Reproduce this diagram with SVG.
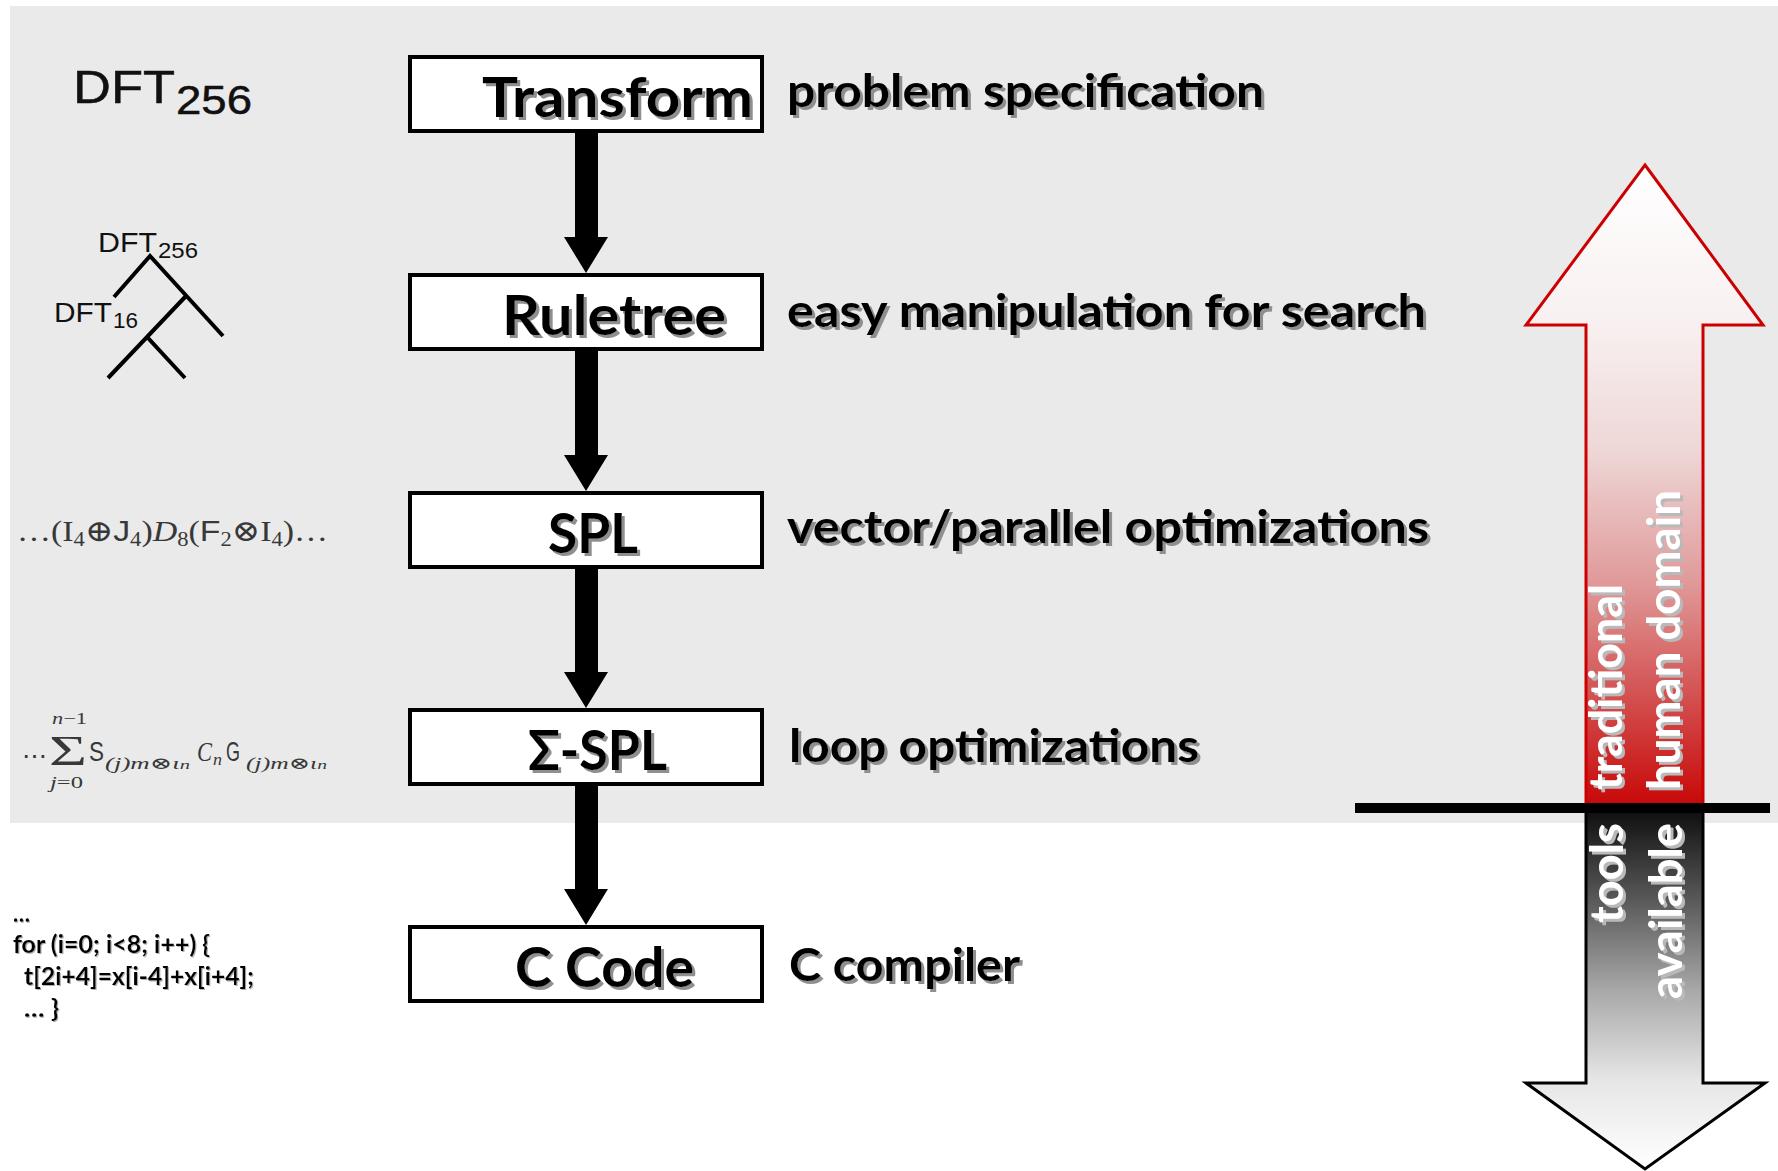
<svg xmlns="http://www.w3.org/2000/svg" width="1778" height="1171" viewBox="0 0 1778 1171">
  <defs>
    <style>
      .box { fill: #ffffff; stroke: #000000; stroke-width: 4; }
      .title { font-family: Lato, "Open Sans", "Liberation Sans", sans-serif; font-weight: 700; font-size: 56px; fill: #000; }
      .label { font-family: Lato, "Open Sans", "Liberation Sans", sans-serif; font-weight: 700; font-size: 46px; fill: #000; }
      .code { font-family: Lato, "Open Sans", "Liberation Sans", sans-serif; font-weight: 700; font-size: 24px; fill: #000; }
      .vert { font-family: Lato, "Open Sans", "Liberation Sans", sans-serif; font-weight: 700; font-size: 45px; fill: #ffffff; }
      .sans { font-family: "Liberation Sans", Arial, sans-serif; fill: #111; }
      .math { font-family: "Liberation Serif", "DejaVu Serif", serif; fill: #383838; }
      .msans { font-family: "Liberation Sans", Arial, sans-serif; fill: #383838; }
      .it { font-style: italic; }
      .tree { stroke: #000; stroke-width: 4; fill: none; }
      .flow { fill: #000; }
    </style>
    <filter id="shadow" x="-10%" y="-20%" width="130%" height="150%">
      <feOffset in="SourceAlpha" dx="2.5" dy="2.5" result="off"/>
      <feFlood flood-color="#8f8f8f"/>
      <feComposite in2="off" operator="in" result="sh"/>
      <feMerge><feMergeNode in="sh"/><feMergeNode in="SourceGraphic"/></feMerge>
    </filter>
    <filter id="shadowSmall" x="-10%" y="-20%" width="130%" height="150%">
      <feOffset in="SourceAlpha" dx="1" dy="1" result="off"/>
      <feFlood flood-color="#b0b0b0"/>
      <feComposite in2="off" operator="in" result="sh"/>
      <feMerge><feMergeNode in="sh"/><feMergeNode in="SourceGraphic"/></feMerge>
    </filter>
    <filter id="shadowLight" x="-20%" y="-10%" width="150%" height="130%">
      <feOffset in="SourceAlpha" dx="2.5" dy="2.5" result="off"/>
      <feFlood flood-color="#b9b9b9"/>
      <feComposite in2="off" operator="in" result="sh"/>
      <feMerge><feMergeNode in="sh"/><feMergeNode in="SourceGraphic"/></feMerge>
    </filter>
    <linearGradient id="upGrad" gradientUnits="userSpaceOnUse" x1="0" y1="165" x2="0" y2="805">
      <stop offset="0" stop-color="#ffffff"/>
      <stop offset="0.25" stop-color="#f8f0f0"/>
      <stop offset="0.45" stop-color="#eed6d6"/>
      <stop offset="0.65" stop-color="#e09a9a"/>
      <stop offset="0.85" stop-color="#d24848"/>
      <stop offset="1" stop-color="#c80808"/>
    </linearGradient>
    <linearGradient id="downGrad" gradientUnits="userSpaceOnUse" x1="0" y1="812" x2="0" y2="1169">
      <stop offset="0" stop-color="#101010"/>
      <stop offset="0.25" stop-color="#5a5a5a"/>
      <stop offset="0.5" stop-color="#a8a8a8"/>
      <stop offset="0.75" stop-color="#e6e6e6"/>
      <stop offset="1" stop-color="#ffffff"/>
    </linearGradient>
  </defs>

  <!-- page background and shaded upper panel -->
  <rect x="0" y="0" width="1778" height="1171" fill="#ffffff"/>
  <rect x="10" y="6" width="1768" height="817" fill="#eaeaea"/>

  <!-- left-hand example representations -->
  <g id="ex-transform">
    <text class="sans" x="73" y="103" font-size="46" textLength="102" lengthAdjust="spacingAndGlyphs" stroke="#111" stroke-width="0.5">DFT</text>
    <text class="sans" x="176" y="114" font-size="40" textLength="76" lengthAdjust="spacingAndGlyphs" stroke="#111" stroke-width="0.5">256</text>
  </g>
  <g id="ex-ruletree">
    <text class="sans" x="98" y="252" font-size="28" textLength="59" lengthAdjust="spacingAndGlyphs" fill="#2a2a2a">DFT</text>
    <text class="sans" x="158" y="258" font-size="22" textLength="40" lengthAdjust="spacingAndGlyphs" fill="#2a2a2a">256</text>
    <text class="sans" x="54" y="322" font-size="27" textLength="58" lengthAdjust="spacingAndGlyphs" fill="#2a2a2a">DFT</text>
    <text class="sans" x="113" y="328" font-size="22" textLength="25" lengthAdjust="spacingAndGlyphs" fill="#2a2a2a">16</text>
    <path class="tree" d="M114 297 L150 256 L223 336 M186 296 L147 337 M108 378 L147 337 L185 378"/>
  </g>
  <g id="ex-spl">
    <text class="math" x="17" y="541" font-size="30" textLength="311" lengthAdjust="spacingAndGlyphs">…(I<tspan font-size="20" dy="5">4</tspan><tspan dy="-5">⊕</tspan><tspan class="msans">J</tspan><tspan font-size="20" dy="5">4</tspan><tspan dy="-5">)</tspan><tspan class="it">D</tspan><tspan font-size="20" dy="5">8</tspan><tspan dy="-5">(</tspan><tspan class="msans">F</tspan><tspan font-size="20" dy="5">2</tspan><tspan dy="-5">⊗I</tspan><tspan font-size="20" dy="5">4</tspan><tspan dy="-5">)…</tspan></text>
  </g>
  <g id="ex-sigma-spl">
    <text class="math" x="22" y="764" font-size="24" textLength="25" lengthAdjust="spacingAndGlyphs">⋯</text>
    <text class="math" x="52" y="724" font-size="17" textLength="35" lengthAdjust="spacingAndGlyphs"><tspan class="it">n</tspan>−1</text>
    <text class="math" x="49" y="765" font-size="42" textLength="38" lengthAdjust="spacingAndGlyphs">Σ</text>
    <text class="math" x="50" y="788" font-size="17" textLength="33" lengthAdjust="spacingAndGlyphs"><tspan class="it">j</tspan>=0</text>
    <text class="msans" x="89" y="761" font-size="28" textLength="15" lengthAdjust="spacingAndGlyphs">S</text>
    <text class="math it" x="105" y="769" font-size="17" textLength="85" lengthAdjust="spacingAndGlyphs">(j)m⊗ι<tspan font-size="13">n</tspan></text>
    <text class="math it" x="197" y="761" font-size="28" textLength="15" lengthAdjust="spacingAndGlyphs">C</text>
    <text class="math it" x="213" y="765" font-size="17" textLength="9" lengthAdjust="spacingAndGlyphs">n</text>
    <text class="msans" x="226" y="761" font-size="28" textLength="14" lengthAdjust="spacingAndGlyphs">G</text>
    <text class="math it" x="246" y="769" font-size="17" textLength="81" lengthAdjust="spacingAndGlyphs">(j)m⊗ι<tspan font-size="13">n</tspan></text>
  </g>
  <g id="ex-ccode" filter="url(#shadowSmall)">
    <text class="code" x="13" y="922" textLength="17" lengthAdjust="spacingAndGlyphs">…</text>
    <text class="code" x="13" y="953" textLength="197" lengthAdjust="spacingAndGlyphs">for (i=0; i&lt;8; i++) {</text>
    <text class="code" x="24" y="985" textLength="230" lengthAdjust="spacingAndGlyphs">t[2i+4]=x[i-4]+x[i+4];</text>
    <text class="code" x="24" y="1017" textLength="35" lengthAdjust="spacingAndGlyphs">… }</text>
  </g>

  <!-- flow connectors between stages -->
  <g id="connectors">
    <polygon class="flow" points="575,133 598,133 598,237 608,237 586,273 564,237 575,237"/>
    <polygon class="flow" points="575,351 598,351 598,455 608,455 586,491 564,455 575,455"/>
    <polygon class="flow" points="575,569 598,569 598,672 608,672 586,708 564,672 575,672"/>
    <polygon class="flow" points="575,786 598,786 598,889 608,889 586,925 564,889 575,889"/>
  </g>

  <!-- stage boxes -->
  <g id="node-transform">
    <rect class="box" x="410" y="57" width="352" height="74"/>
    <text class="title" x="482" y="117" textLength="271" lengthAdjust="spacingAndGlyphs" filter="url(#shadow)">Transform</text>
    <text class="label" x="787" y="107" textLength="477" lengthAdjust="spacingAndGlyphs" filter="url(#shadow)">problem specification</text>
  </g>
  <g id="node-ruletree">
    <rect class="box" x="410" y="275" width="352" height="74"/>
    <text class="title" x="502" y="335" textLength="224" lengthAdjust="spacingAndGlyphs" filter="url(#shadow)">Ruletree</text>
    <text class="label" x="787" y="327" textLength="639" lengthAdjust="spacingAndGlyphs" filter="url(#shadow)">easy manipulation for search</text>
  </g>
  <g id="node-spl">
    <rect class="box" x="410" y="493" width="352" height="74"/>
    <text class="title" x="548" y="553" textLength="90" lengthAdjust="spacingAndGlyphs" filter="url(#shadow)">SPL</text>
    <text class="label" x="787" y="543" textLength="642" lengthAdjust="spacingAndGlyphs" filter="url(#shadow)">vector/parallel optimizations</text>
  </g>
  <g id="node-sigma-spl">
    <rect class="box" x="410" y="710" width="352" height="74"/>
    <text class="title" x="528" y="770" textLength="139" lengthAdjust="spacingAndGlyphs" filter="url(#shadow)">Σ-SPL</text>
    <text class="label" x="789" y="762" textLength="410" lengthAdjust="spacingAndGlyphs" filter="url(#shadow)">loop optimizations</text>
  </g>
  <g id="node-ccode">
    <rect class="box" x="410" y="927" width="352" height="74"/>
    <text class="title" x="515" y="987" textLength="179" lengthAdjust="spacingAndGlyphs" filter="url(#shadow)">C Code</text>
    <text class="label" x="789" y="981" textLength="231" lengthAdjust="spacingAndGlyphs" filter="url(#shadow)">C compiler</text>
  </g>

  <!-- domain indicator: human domain above the line, tools below -->
  <g id="domain-up">
    <polygon points="1645,165 1763,325 1703,325 1703,806 1586,806 1586,325 1526,325" fill="url(#upGrad)" stroke="#cc0000" stroke-width="3" stroke-linejoin="miter"/>
    <g filter="url(#shadowLight)">
      <text class="vert" transform="translate(1622,790) rotate(-90)" textLength="206" lengthAdjust="spacingAndGlyphs">traditional</text>
      <text class="vert" transform="translate(1680,790) rotate(-90)" textLength="300" lengthAdjust="spacingAndGlyphs">human domain</text>
    </g>
  </g>
  <g id="domain-down">
    <polygon points="1586,810 1703,810 1703,1083 1765,1083 1645,1169 1526,1083 1586,1083" fill="url(#downGrad)" stroke="#000" stroke-width="3" stroke-linejoin="miter"/>
    <g filter="url(#shadowLight)">
      <text class="vert" transform="translate(1623,923) rotate(-90)" textLength="100" lengthAdjust="spacingAndGlyphs">tools</text>
      <text class="vert" transform="translate(1682,999) rotate(-90)" textLength="176" lengthAdjust="spacingAndGlyphs">available</text>
    </g>
  </g>
  <rect id="divider" x="1355" y="803" width="415" height="10" fill="#000"/>
</svg>
